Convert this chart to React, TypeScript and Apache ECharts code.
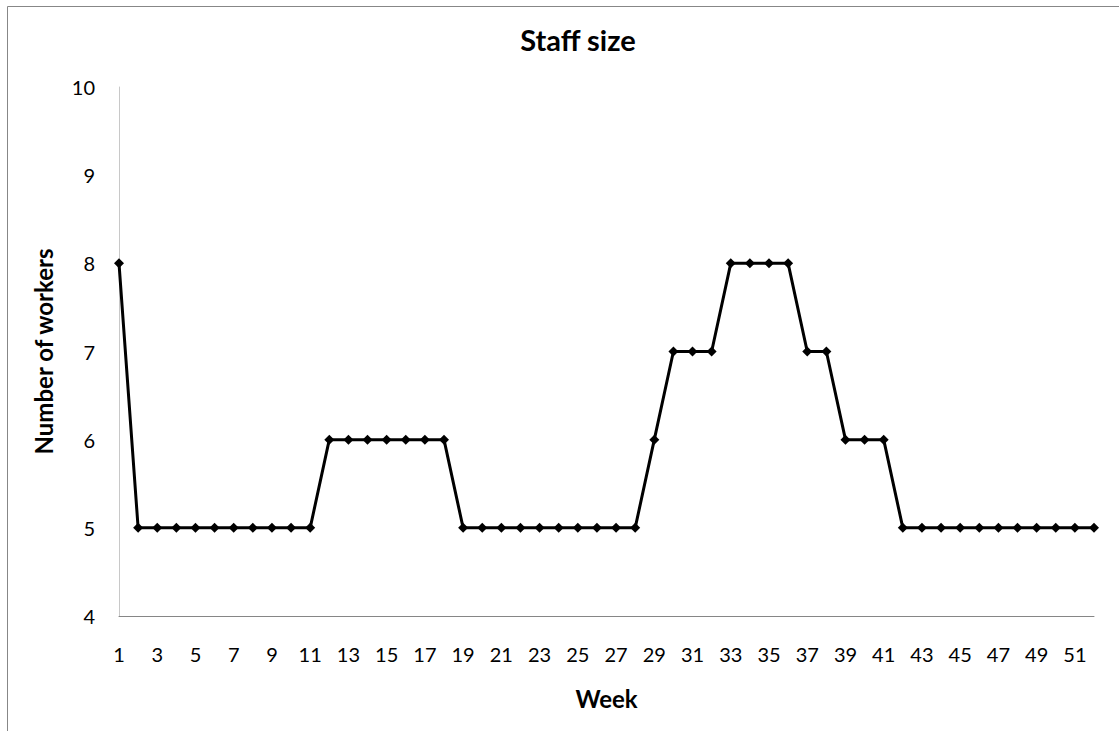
import React, { useEffect, useRef } from "react";
import * as echarts from "echarts";

const weeks: string[] = Array.from({ length: 52 }, (_, i) => String(i + 1));
const workers: number[] = [
  8, 5, 5, 5, 5, 5, 5, 5, 5, 5, 5,
  6, 6, 6, 6, 6, 6, 6,
  5, 5, 5, 5, 5, 5, 5, 5, 5, 5,
  6, 7, 7, 7, 8, 8, 8, 8, 7, 7, 6, 6, 6,
  5, 5, 5, 5, 5, 5, 5, 5, 5, 5, 5,
];
const titleText = "Staff size";
const xName = "Week";
const yName = "Number of workers";

const FONT = "Lato, 'Open Sans', sans-serif";

export default function App() {
  const ref = useRef<HTMLDivElement>(null);
  useEffect(() => {
    document.body.style.margin = "0";
    const chart = echarts.init(ref.current!, null, { renderer: "svg" });
    chart.setOption({
      animation: false,
      backgroundColor: "#ffffff",
      textStyle: { fontFamily: FONT },
      title: {
        text: titleText,
        left: 573,
        top: 20,
        textAlign: "center",
        textStyle: { fontFamily: FONT, fontWeight: "bold", fontSize: 29, color: "#000" },
      },
      graphic: [
        {
          type: "rect",
          shape: { x: 7.5, y: 6.5, width: 1300, height: 900 },
          style: { fill: "none", stroke: "#878787", lineWidth: 1 },
          silent: true,
        },
      ],
      grid: { left: 119, right: 25, top: 87, bottom: 115 },
      xAxis: {
        type: "category",
        data: weeks,
        boundaryGap: false,
        name: xName,
        nameLocation: "middle",
        nameGap: 70,
        nameTextStyle: { fontFamily: FONT, fontWeight: "bold", fontSize: 24, color: "#000" },
        axisLine: { lineStyle: { color: "#868686", width: 1 } },
        axisTick: { show: false },
        axisLabel: {
          interval: 1,
          margin: 28,
          fontFamily: FONT,
          fontSize: 20,
          color: "#000",
        },
        splitLine: { show: false },
      },
      yAxis: {
        type: "value",
        min: 4,
        max: 10,
        interval: 1,
        name: yName,
        nameLocation: "middle",
        nameGap: 64,
        nameTextStyle: { fontFamily: FONT, fontWeight: "bold", fontSize: 24, color: "#000" },
        axisLine: { show: true, lineStyle: { color: "#c8c8c8", width: 1 } },
        axisTick: { show: false },
        axisLabel: { margin: 24, fontFamily: FONT, fontSize: 20, color: "#000" },
        splitLine: { show: false },
      },
      series: [
        {
          type: "line",
          data: workers,
          symbol: "diamond",
          symbolSize: 10,
          showAllSymbol: true,
          itemStyle: { color: "#000" },
          lineStyle: { color: "#000", width: 3 },
        },
      ],
    });
    return () => chart.dispose();
  }, []);
  return <div ref={ref} style={{ width: 1119, height: 731 }} />;
}
